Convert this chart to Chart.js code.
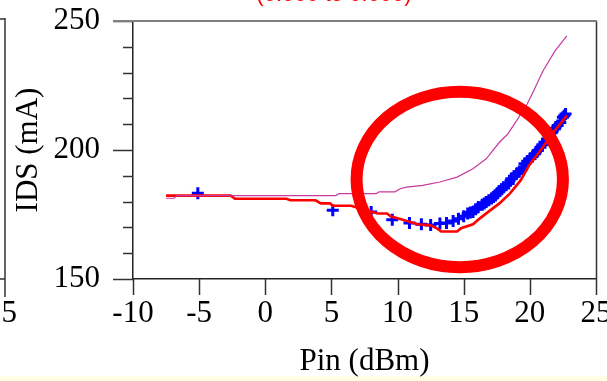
<!DOCTYPE html>
<html>
<head>
<meta charset="utf-8">
<script src="https://cdn.jsdelivr.net/npm/chart.js@4"></script>
<style>
  html, body { margin: 0; padding: 0; background: #fff; }
  canvas { display: block; }
</style>
</head>
<body>
<canvas id="mycanvas" width="607" height="381"></canvas>
<script>
// tick values
var xTicks = [-10, -5, 0, 5, 10, 15, 20, 25];
var yTicks = [150, 160, 170, 180, 190, 200, 210, 220, 230, 240, 250];
var yLabels = [150, 200, 250];

// red trace (measured IDS)
var redX = [-7.5, -2.6, -2.3, 1.6, 1.9, 3.8, 4.2, 4.9, 5.1, 6.5, 7.3, 8.1, 8.5, 9.2, 9.5, 10.0, 10.7, 11.5, 12.5, 13.0, 13.3, 14.5, 14.8, 15.7, 16.2, 17.0, 17.7, 18.5, 19.3, 20.0, 20.8, 21.7, 22.5, 22.8];
var redY = [182.3, 182.3, 181.1, 181.1, 180.5, 180.5, 179.3, 179.3, 178.4, 178.4, 177.0, 176.0, 175.4, 175.4, 174.2, 173.5, 172.5, 171.2, 170.8, 169.5, 168.4, 168.4, 169.7, 171.2, 173.4, 176.6, 179.3, 183.2, 188.2, 194.5, 199.8, 206.4, 211.4, 213.5];

// purple trace
var purpleX = [-7.5, -6.9, -6.7, 5.3, 5.6, 8.4, 8.6, 9.8, 10.2, 10.7, 11.9, 13.2, 14.5, 15.7, 16.7, 17.7, 18.3, 19.0, 19.8, 20.2, 21.0, 21.9, 22.8];
var purpleY = [181.3, 181.3, 182.3, 182.3, 183.1, 183.1, 183.8, 183.8, 185.0, 185.6, 186.3, 187.6, 189.5, 192.7, 196.6, 203.0, 206.0, 211.4, 217.8, 222.0, 230.7, 238.4, 244.2];

// blue markers (+)
var blueX = [-5.1, 5.1, 8.0, 9.6, 10.9, 11.8, 12.5, 13.2, 13.7, 14.2, 14.6, 15.0, 15.3, 15.5, 15.7, 15.9, 16.1, 16.4, 16.55, 16.7, 16.9, 17.1, 17.25, 17.4, 17.55, 17.7, 17.85, 18.0, 18.2, 18.4, 18.6, 18.8, 19.0, 19.2, 19.4, 19.6, 19.8, 20.0, 20.2, 20.4, 20.6, 20.8, 20.95, 21.1, 21.3, 21.5, 21.7, 21.9, 22.1, 22.3, 22.5, 22.6, 22.7];
var blueY = [183.2, 176.6, 176.0, 173.0, 171.7, 171.2, 170.9, 171.5, 171.7, 172.5, 173.4, 174.3, 175.4, 175.8, 176.0, 177.0, 177.9, 178.8, 179.3, 179.8, 180.5, 181.2, 181.8, 182.4, 183.2, 184.1, 184.8, 185.6, 186.3, 187.0, 188.9, 189.8, 190.8, 191.7, 192.7, 194.7, 195.6, 196.6, 197.5, 198.5, 199.8, 201.1, 202.0, 203.0, 204.3, 205.6, 206.9, 208.2, 209.5, 210.7, 212.7, 213.3, 214.0];

// highlight ellipse (data units)
var ringCenter = [14.7, 188.6];
var ringRadius = [7.8, 34];

function pts(xs, ys) {
	var out = [];
	for (var i = 0; i < xs.length; i++) out.push({x: xs[i], y: ys[i]});
	return out;
}

var serif = 'Liberation Serif';
var fsize = 31;

var decor = {
	id: 'decor',
	beforeDraw: function(chart) {
		var ctx = chart.ctx;
		ctx.save();
		ctx.fillStyle = '#ffffe6';
		ctx.fillRect(0, 376, chart.width, chart.height - 376);
		ctx.restore();
	},
	afterDatasetsDraw: function(chart) {
		var ctx = chart.ctx, xs = chart.scales.x, ys = chart.scales.y;
		// red ring
		var cx = xs.getPixelForValue(ringCenter[0]);
		var cy = ys.getPixelForValue(ringCenter[1]);
		var rx = xs.getPixelForValue(ringCenter[0] + ringRadius[0]) - cx;
		var ry = cy - ys.getPixelForValue(ringCenter[1] + ringRadius[1]);
		ctx.save();
		ctx.strokeStyle = '#ff0000';
		ctx.lineWidth = 12;
		ctx.beginPath();
		ctx.ellipse(cx, cy, rx, ry, 0, 0, Math.PI * 2);
		ctx.stroke();
		ctx.restore();
	},
	afterDraw: function(chart) {
		var ctx = chart.ctx, xs = chart.scales.x, ys = chart.scales.y;
		var a = chart.chartArea;
		ctx.save();
		ctx.strokeStyle = '#333';
		ctx.lineWidth = 1.5;
		ctx.beginPath();
		for (var i = 0; i < yTicks.length; i++) {
			var py = Math.round(ys.getPixelForValue(yTicks[i])) + 0.5;
			var len = yTicks[i] % 50 === 0 ? 20 : 10;
			ctx.moveTo(a.left - len, py);
			ctx.lineTo(a.left, py);
		}
		for (var j = 0; j < xTicks.length; j++) {
			var px = Math.round(xs.getPixelForValue(xTicks[j])) + 0.5;
			ctx.moveTo(px, a.bottom);
			ctx.lineTo(px, a.bottom + 16);
		}
		// right frame
		ctx.moveTo(a.right + 0.5, a.top);
		ctx.lineTo(a.right + 0.5, a.bottom);
		ctx.stroke();
		// top frame (grey)
		ctx.strokeStyle = '#808080';
		ctx.lineWidth = 2;
		ctx.beginPath();
		ctx.moveTo(a.left - 20, a.top);
		ctx.lineTo(a.right + 1, a.top);
		ctx.stroke();

		// piece of the neighbouring plot on the left
		ctx.strokeStyle = '#333';
		ctx.lineWidth = 1.5;
		ctx.beginPath();
		ctx.moveTo(5, 18); ctx.lineTo(5, 297);
		ctx.moveTo(0, 19); ctx.lineTo(5, 19);
		ctx.moveTo(0, 279); ctx.lineTo(5, 279);
		ctx.stroke();
		ctx.fillStyle = '#000';
		ctx.font = fsize + 'px "' + serif + '"';
		ctx.textAlign = 'right';
		ctx.textBaseline = 'middle';
		ctx.fillText('25', 17, 314);

		// clipped red header
		ctx.fillStyle = '#ff0000';
		ctx.font = '22px "Liberation Sans"';
		ctx.textAlign = 'center';
		ctx.textBaseline = 'alphabetic';
		ctx.fillText('(0.000 to 0.000)', 334, 1);
		ctx.restore();
	}
};

var ctx = document.getElementById('mycanvas');

var chart = new Chart(ctx, {
	type: 'scatter',
	data: {
		datasets: [
			{
				label: 'purple',
				data: pts(purpleX, purpleY),
				showLine: true,
				borderColor: '#c8399f',
				borderWidth: 1.2,
				pointRadius: 0,
				tension: 0
			},
			{
				label: 'red',
				data: pts(redX, redY),
				showLine: true,
				borderColor: '#ff0000',
				borderWidth: 2.6,
				pointRadius: 0,
				tension: 0
			},
			{
				label: 'blue',
				data: pts(blueX, blueY),
				showLine: false,
				pointStyle: 'cross',
				pointRadius: 6,
				pointBorderWidth: 3,
				borderColor: '#0000ff',
				backgroundColor: '#0000ff'
			}
		]
	},
	options: {
		responsive: false,
		animation: false,
		events: [],
		layout: {padding: {left: 0, right: 11, top: 21, bottom: 0}},
		plugins: {legend: {display: false}, tooltip: {enabled: false}},
		scales: {
			x: {
				type: 'linear',
				min: -10,
				max: 25,
				afterBuildTicks: function(s) { s.ticks = xTicks.map(function(v) { return {value: v}; }); },
				ticks: {color: '#000', font: {family: serif, size: fsize}, padding: 16, maxRotation: 0, autoSkip: false},
				grid: {display: false, drawTicks: false},
				border: {display: true, color: '#222', width: 1.5},
				title: {display: true, text: 'Pin (dBm)', color: '#000', font: {family: serif, size: fsize}, padding: {top: 0, bottom: 1}},
				afterFit: function(s) { s.height = 102; s.paddingLeft = 0; s.paddingRight = 0; }
			},
			y: {
				min: 150,
				max: 250,
				afterBuildTicks: function(s) { s.ticks = yLabels.map(function(v) { return {value: v}; }); },
				ticks: {color: '#000', font: {family: serif, size: fsize}, padding: 33},
				grid: {display: false, drawTicks: false},
				border: {display: true, color: '#222', width: 1.5},
				title: {display: true, text: 'IDS (mA)', color: '#000', font: {family: serif, size: fsize}, padding: {top: 10, bottom: 0}},
				afterFit: function(s) { s.width = 133; s.paddingTop = 0; s.paddingBottom = 0; }
			}
		}
	},
	plugins: [decor]
});
</script>
</body>
</html>
